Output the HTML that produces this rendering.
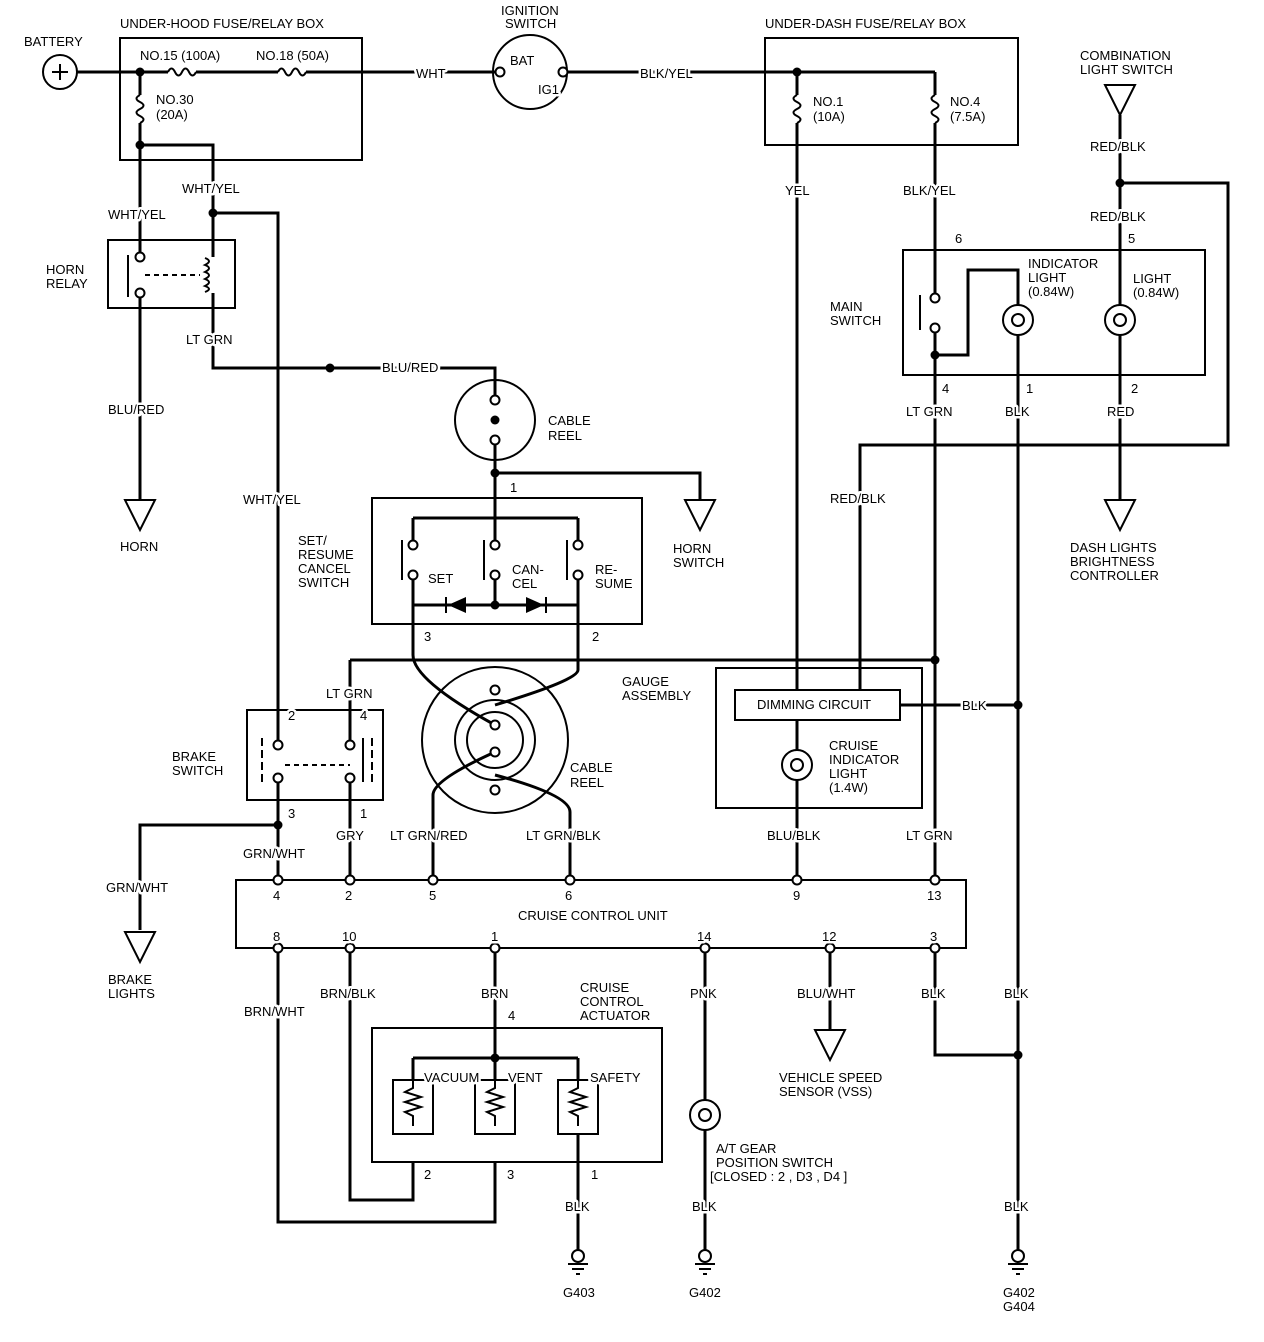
<!DOCTYPE html>
<html><head><meta charset="utf-8"><style>
html,body{margin:0;padding:0;background:#fff}
svg{display:block}
text{font-family:"Liberation Sans",sans-serif;font-size:13px;fill:#000;text-transform:uppercase;stroke:#fff;stroke-width:5px;paint-order:stroke;stroke-linejoin:round}
</style></head><body>
<svg width="1264" height="1342" viewBox="0 0 1264 1342" xmlns="http://www.w3.org/2000/svg">
<defs>
<path id="fh" d="M-14 0 q3.5 -7 7 0 q3.5 7 7 0 q3.5 -7 7 0 q3.5 7 7 0" fill="none" stroke="#000" stroke-width="2"/>
<path id="fv" d="M0 -14 q-7 3.5 0 7 q7 3.5 0 7 q-7 3.5 0 7 q7 3.5 0 7" fill="none" stroke="#000" stroke-width="2"/>
<g id="tri"><path d="M-15 0 L15 0 L0 30 Z" fill="#fff" stroke="#000" stroke-width="2"/></g>
<g id="gnd"><circle cx="0" cy="0" r="6" fill="#fff" stroke="#000" stroke-width="2"/><line x1="-10" y1="8" x2="10" y2="8" stroke="#000" stroke-width="2"/><line x1="-6" y1="13" x2="6" y2="13" stroke="#000" stroke-width="2"/><line x1="-2" y1="18" x2="2" y2="18" stroke="#000" stroke-width="2"/></g>
<g id="bulb"><circle cx="0" cy="0" r="15" fill="#fff" stroke="#000" stroke-width="2"/><path d="M-6 0 a6 6 0 1 1 12 0 a6 6 0 1 1 -12 0" fill="none" stroke="#000" stroke-width="2"/></g>
<g id="coil"><rect x="-20" y="-27" width="40" height="54" fill="#fff" stroke="#000" stroke-width="2"/><path d="M0 -27 v8 l-8 4 l16 5 l-16 5 l16 5 l-16 5 l8 4 v10" fill="none" stroke="#000" stroke-width="2"/></g>
<circle id="c" r="4.5" fill="#fff" stroke="#000" stroke-width="2"/>
<circle id="d" r="4.5" fill="#000"/>
</defs>
<g fill="none" stroke="#000" stroke-width="3">
<rect x="120" y="38" width="242" height="122" stroke-width="2"/>
<rect x="765" y="38" width="253" height="107" stroke-width="2"/>
<rect x="108" y="240" width="127" height="68" stroke-width="2"/>
<rect x="903" y="250" width="302" height="125" stroke-width="2"/>
<rect x="372" y="498" width="270" height="126" stroke-width="2"/>
<rect x="247" y="710" width="136" height="90" stroke-width="2"/>
<rect x="716" y="668" width="206" height="140" stroke-width="2"/>
<rect x="735" y="690" width="165" height="30" stroke-width="2"/>
<rect x="236" y="880" width="730" height="68" stroke-width="2"/>
<rect x="372" y="1028" width="290" height="134" stroke-width="2"/>
<circle cx="60" cy="72" r="17" stroke-width="2"/>
<circle cx="530" cy="72" r="37" stroke-width="2"/>
<circle cx="495" cy="420" r="40" stroke-width="2"/>
<circle cx="495" cy="740" r="73" stroke-width="2"/>
<circle cx="495" cy="740" r="40" stroke-width="2"/>
<circle cx="495" cy="740" r="28" stroke-width="2"/>
<path d="M77 72 H168 M196 72 H278 M306 72 H495"/>
<path d="M563 72 H797 H935"/>
<path d="M140 72 V95 M140 123 V145 H213 V213 H278 V740"/>
<path d="M140 145 V257 M140 293 V500"/>
<path d="M213 213 V257 M213 293 V368 H495 V400"/>
<path d="M495 440 V473 H700 V500 M495 473 V518"/>
<path d="M413 518 H578 M413 518 V540 M495 518 V540 M578 518 V540"/>
<path d="M413 580 V605 M495 580 V605 M578 580 V605 M413 605 H578"/>
<path d="M413 605 V655 Q413 680 495 725 M578 605 V670 Q578 680 495 705"/>
<path d="M350 660 H935 M350 660 V740"/>
<path d="M278 778 V880 M278 825 H140 V930 M350 778 V880"/>
<path d="M433 880 V795 Q433 780 495 752 M570 880 V812 Q570 795 495 775"/>
<path d="M797 72 V95 M797 123 V690 M797 720 V750 M797 780 V880"/>
<path d="M935 72 V95 M935 123 V295 M935 330 V880 M935 355 H968 V270 H1018 V305 M1018 335 V1250"/>
<path d="M900 705 H1018"/>
<path d="M1120 115 V305 M1120 335 V500 M1120 183 H1228 V445 H860 V690"/>
<path d="M278 948 V1222 H495 V1162 M350 948 V1200 H413 V1162"/>
<path d="M495 948 V1058 M413 1058 H578 M413 1058 V1080 M495 1058 V1080 M578 1058 V1080 M578 1134 V1250"/>
<path d="M705 948 V1100 M705 1130 V1250 M830 948 V1030 M935 948 V1055 H1018"/>
<path d="M128 255 V297 M363 738 V782" stroke-width="2"/>
<path d="M145 275 H200 M285 765 H350" stroke-width="2" stroke-dasharray="5 4"/>
<path d="M262 738 V782 M372 738 V782" stroke-width="2" stroke-dasharray="8 4"/>
<path d="M402 540 V580 M484 540 V580 M567 540 V580 M920 295 V330" stroke-width="2"/>
<path d="M205 258 q8 3 0 7 q8 3 0 7 q8 3 0 7 q8 3 0 7 q8 3 0 6" stroke-width="2"/>
</g>
<use href="#fh" x="182" y="72"/><use href="#fh" x="292" y="72"/>
<use href="#fv" x="140" y="109"/><use href="#fv" x="797" y="109"/><use href="#fv" x="935" y="109"/>
<path d="M448 605 L466 597 L466 613 Z M544 605 L526 597 L526 613 Z" fill="#000"/>
<path d="M446 597 V613 M546 597 V613" stroke="#000" stroke-width="2"/>
<g>
<use href="#c" x="140" y="257"/><use href="#c" x="140" y="293"/>
<use href="#c" x="495" y="400"/><use href="#c" x="495" y="440"/><use href="#d" x="495" y="420"/>
<use href="#c" x="413" y="545"/><use href="#c" x="413" y="575"/><use href="#c" x="495" y="545"/><use href="#c" x="495" y="575"/><use href="#c" x="578" y="545"/><use href="#c" x="578" y="575"/>
<use href="#c" x="495" y="690"/><use href="#c" x="495" y="725"/><use href="#c" x="495" y="752"/><use href="#c" x="495" y="790"/>
<use href="#c" x="278" y="745"/><use href="#c" x="278" y="778"/><use href="#c" x="350" y="745"/><use href="#c" x="350" y="778"/>
<use href="#c" x="500" y="72"/><use href="#c" x="563" y="72"/>
<use href="#c" x="935" y="298"/><use href="#c" x="935" y="328"/>
<use href="#c" x="278" y="880"/><use href="#c" x="350" y="880"/><use href="#c" x="433" y="880"/><use href="#c" x="570" y="880"/><use href="#c" x="797" y="880"/><use href="#c" x="935" y="880"/>
<use href="#c" x="278" y="948"/><use href="#c" x="350" y="948"/><use href="#c" x="495" y="948"/><use href="#c" x="705" y="948"/><use href="#c" x="830" y="948"/><use href="#c" x="935" y="948"/>
<use href="#d" x="140" y="72"/><use href="#d" x="140" y="145"/><use href="#d" x="213" y="213"/><use href="#d" x="330" y="368"/><use href="#d" x="495" y="473"/><use href="#d" x="495" y="605"/>
<use href="#d" x="797" y="72"/><use href="#d" x="1120" y="183"/><use href="#d" x="935" y="355"/><use href="#d" x="935" y="660"/><use href="#d" x="278" y="825"/><use href="#d" x="1018" y="705"/><use href="#d" x="1018" y="1055"/>
<use href="#d" x="495" y="1058"/>
</g>
<use href="#bulb" x="1018" y="320"/><use href="#bulb" x="1120" y="320"/><use href="#bulb" x="797" y="765"/><use href="#bulb" x="705" y="1115"/>
<use href="#coil" x="413" y="1107"/><use href="#coil" x="495" y="1107"/><use href="#coil" x="578" y="1107"/>
<use href="#tri" x="140" y="500"/><use href="#tri" x="700" y="500"/><use href="#tri" x="1120" y="500"/><use href="#tri" x="140" y="932"/><use href="#tri" x="830" y="1030"/>
<path d="M1105 85 L1135 85 L1120 115 Z" fill="#fff" stroke="#000" stroke-width="2"/>
<use href="#gnd" x="578" y="1256"/><use href="#gnd" x="705" y="1256"/><use href="#gnd" x="1018" y="1256"/>
<path d="M52 72 H68 M60 64 V80" stroke="#000" stroke-width="2"/>
<g>
<text x="24" y="46">Battery</text>
<text x="120" y="28">Under-hood fuse/relay box</text>
<text x="140" y="60">No.15 (100A)</text><text x="256" y="60">No.18 (50A)</text>
<text x="156" y="104">No.30</text><text x="156" y="119">(20A)</text>
<text x="416" y="78">WHT</text>
<text x="501" y="15">Ignition</text><text x="505" y="28">Switch</text>
<text x="510" y="65">BAT</text><text x="538" y="94">IG1</text>
<text x="640" y="78">BLK/YEL</text>
<text x="765" y="28">Under-dash fuse/relay box</text>
<text x="813" y="106">No.1</text><text x="813" y="121">(10A)</text>
<text x="950" y="106">No.4</text><text x="950" y="121">(7.5A)</text>
<text x="1080" y="60">Combination</text><text x="1080" y="74">light switch</text>
<text x="1090" y="151">RED/BLK</text><text x="1090" y="221">RED/BLK</text>
<text x="1128" y="243">5</text><text x="955" y="243">6</text>
<text x="182" y="193">WHT/YEL</text><text x="108" y="219">WHT/YEL</text>
<text x="46" y="274">Horn</text><text x="46" y="288">Relay</text>
<text x="186" y="344">LT GRN</text>
<text x="382" y="372">BLU/RED</text>
<text x="108" y="414">BLU/RED</text>
<text x="120" y="551">HORN</text>
<text x="548" y="425">Cable</text><text x="548" y="440">Reel</text>
<text x="785" y="195">YEL</text><text x="903" y="195">BLK/YEL</text>
<text x="1028" y="268">Indicator</text><text x="1028" y="282">light</text><text x="1028" y="296">(0.84W)</text>
<text x="1133" y="283">Light</text><text x="1133" y="297">(0.84W)</text>
<text x="830" y="311">Main</text><text x="830" y="325">switch</text>
<text x="942" y="393">4</text><text x="1026" y="393">1</text><text x="1131" y="393">2</text>
<text x="906" y="416">LT GRN</text><text x="1005" y="416">BLK</text><text x="1107" y="416">RED</text>
<text x="830" y="503">RED/BLK</text>
<text x="243" y="504">WHT/YEL</text>
<text x="510" y="492">1</text>
<text x="673" y="553">Horn</text><text x="673" y="567">switch</text>
<text x="1070" y="552">Dash lights</text><text x="1070" y="566">brightness</text><text x="1070" y="580">controller</text>
<text x="298" y="545">Set/</text><text x="298" y="559">Resume</text><text x="298" y="573">Cancel</text><text x="298" y="587">Switch</text>
<text x="428" y="583">SET</text><text x="512" y="574">CAN-</text><text x="512" y="588">CEL</text><text x="595" y="574">RE-</text><text x="595" y="588">SUME</text>
<text x="424" y="641">3</text><text x="592" y="641">2</text>
<text x="622" y="686">Gauge</text><text x="622" y="700">assembly</text>
<text x="326" y="698">LT GRN</text>
<text x="288" y="720">2</text><text x="360" y="720">4</text>
<text x="172" y="761">Brake</text><text x="172" y="775">switch</text>
<text x="288" y="818">3</text><text x="360" y="818">1</text>
<text x="757" y="709">Dimming circuit</text>
<text x="962" y="710">BLK</text>
<text x="829" y="750">Cruise</text><text x="829" y="764">indicator</text><text x="829" y="778">light</text><text x="829" y="792">(1.4W)</text>
<text x="570" y="772">Cable</text><text x="570" y="787">reel</text>
<text x="243" y="858">GRN/WHT</text><text x="336" y="840">GRY</text><text x="390" y="840">LT GRN/RED</text><text x="526" y="840">LT GRN/BLK</text><text x="767" y="840">BLU/BLK</text><text x="906" y="840">LT GRN</text>
<text x="106" y="892">GRN/WHT</text>
<text x="273" y="900">4</text><text x="345" y="900">2</text><text x="429" y="900">5</text><text x="565" y="900">6</text><text x="793" y="900">9</text><text x="927" y="900">13</text>
<text x="518" y="920">Cruise control unit</text>
<text x="273" y="941">8</text><text x="342" y="941">10</text><text x="491" y="941">1</text><text x="697" y="941">14</text><text x="822" y="941">12</text><text x="930" y="941">3</text>
<text x="108" y="984">Brake</text><text x="108" y="998">lights</text>
<text x="320" y="998">BRN/BLK</text><text x="481" y="998">BRN</text><text x="690" y="998">PNK</text><text x="797" y="998">BLU/WHT</text><text x="921" y="998">BLK</text><text x="1004" y="998">BLK</text>
<text x="244" y="1016">BRN/WHT</text>
<text x="580" y="992">Cruise</text><text x="580" y="1006">control</text><text x="580" y="1020">actuator</text>
<text x="508" y="1020">4</text>
<text x="424" y="1082">Vacuum</text><text x="508" y="1082">Vent</text><text x="590" y="1082">Safety</text>
<text x="779" y="1082">Vehicle speed</text><text x="779" y="1096">sensor (VSS)</text>
<text x="716" y="1153">A/T gear</text><text x="716" y="1167">position switch</text><text x="710" y="1181">[closed : 2 , D3 , D4 ]</text>
<text x="424" y="1179">2</text><text x="507" y="1179">3</text><text x="591" y="1179">1</text>
<text x="565" y="1211">BLK</text><text x="692" y="1211">BLK</text><text x="1004" y="1211">BLK</text>
<text x="563" y="1297">G403</text><text x="689" y="1297">G402</text><text x="1003" y="1297">G402</text><text x="1003" y="1311">G404</text>
</g>
</svg>
</body></html>
